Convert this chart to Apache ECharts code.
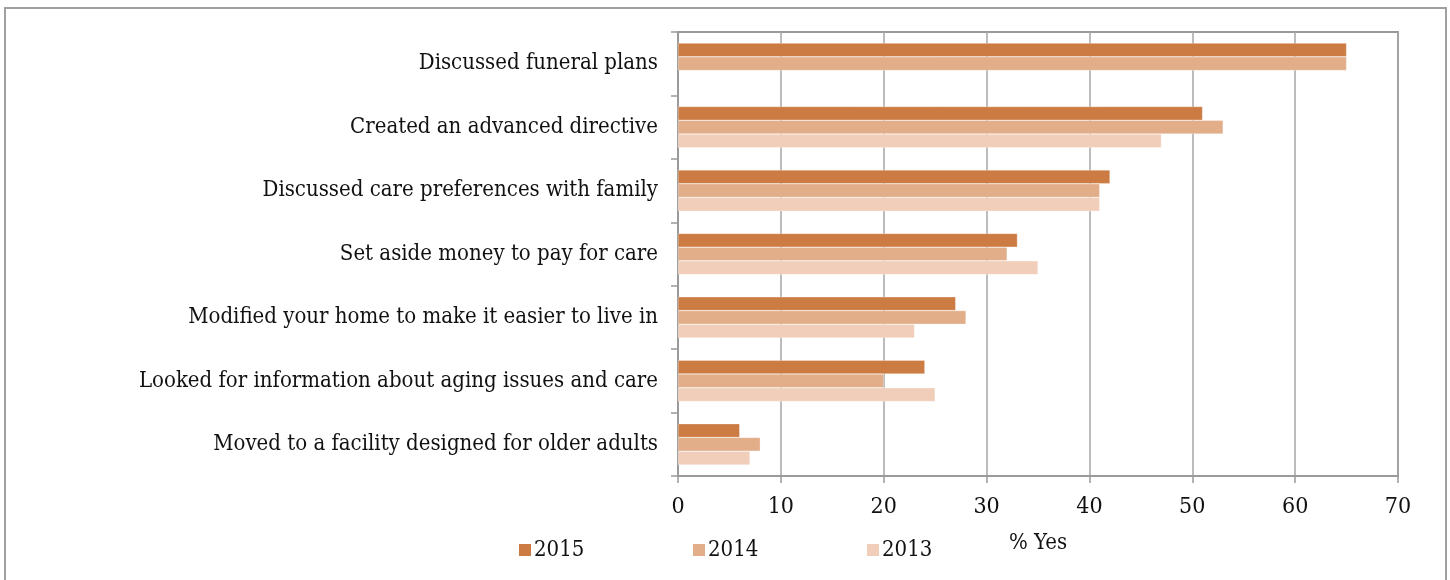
<!DOCTYPE html>
<html><head><meta charset="utf-8">
<script src="https://cdn.jsdelivr.net/npm/echarts@6/dist/echarts.min.js"></script>
<style>html,body{margin:0;padding:0;background:#fff}#c{width:1450px;height:580px}</style>
</head><body><div id="c"></div>
<script>
const categories = ["Discussed funeral plans","Created an advanced directive","Discussed care preferences with family","Set aside money to pay for care","Modified your home to make it easier to live in","Looked for information about aging issues and care","Moved to a facility designed for older adults"];
const y2015 = [65,51,42,33,27,24,6];
const y2014 = [65,53,41,32,28,20,8];
const y2013 = [null,47,41,35,23,25,7];
const seriesNames = ["2015","2014","2013"];
const xTicks = [0,10,20,30,40,50,60,70];

const FONT = '"DejaVu Serif Condensed","DejaVu Serif",serif';
const colors = ['#CC7B42','#E2AD89','#F0CEBA'];
const legendLeft = [519, 693, 867];
const chart = echarts.init(document.getElementById('c'), null, {renderer:'canvas'});
const data = [y2015,y2014,y2013];
chart.setOption({
  animation:false,
  graphic:[{type:'rect',shape:{x:5,y:8,width:1441,height:590},style:{fill:'none',stroke:'#A0A0A0',lineWidth:2},silent:true}],
  grid:{left:678,right:52,top:32,bottom:104,show:true,borderColor:'#9A9A9A',borderWidth:2,backgroundColor:'transparent'},
  legend:seriesNames.map((n,i)=>({top:539,left:legendLeft[i],padding:0,itemWidth:12,itemHeight:12,icon:'rect',itemGap:0,
    itemStyle:{borderWidth:0},
    textStyle:{fontFamily:FONT,fontSize:22,color:'#111',padding:[0,0,0,-2]},data:[n]})),
  xAxis:{type:'value',min:0,max:70,interval:10,
    name:'% Yes',nameLocation:'middle',nameGap:56,
    nameTextStyle:{fontFamily:FONT,fontSize:22,color:'#111'},
    axisLine:{show:true,lineStyle:{color:'#9A9A9A',width:2}},
    axisTick:{show:true,length:7,lineStyle:{color:'#9A9A9A',width:1.5}},
    splitLine:{show:true,lineStyle:{color:'#A6A6A6',width:1.5}},
    axisLabel:{fontFamily:FONT,fontSize:23,color:'#111',margin:20,
      formatter:v=>xTicks.includes(v)?String(v):''}},
  yAxis:{type:'category',data:categories,inverse:true,
    axisLine:{show:true,lineStyle:{color:'#9A9A9A',width:2}},
    axisTick:{show:true,length:7,lineStyle:{color:'#9A9A9A',width:1.5}},
    axisLabel:{fontFamily:FONT,fontSize:22,color:'#111',margin:20}},
  series:data.map((d,i)=>({name:seriesNames[i],type:'bar',data:d,barGap:'0%',barCategoryGap:'35%',
    itemStyle:{color:colors[i],borderColor:'rgba(255,255,255,0.6)',borderWidth:0.5}}))
});
</script></body></html>
